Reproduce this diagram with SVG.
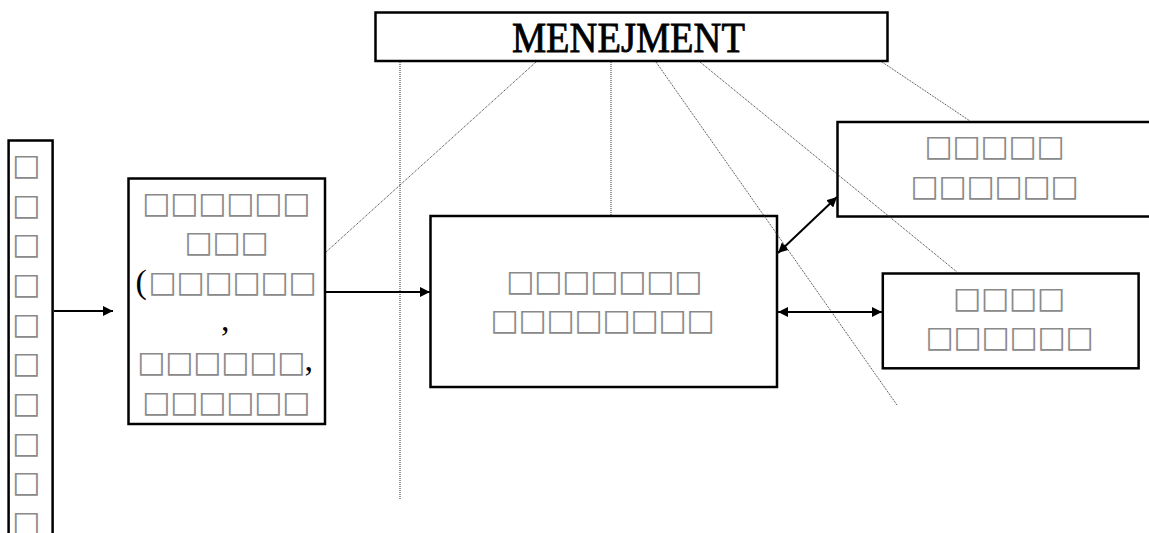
<svg xmlns="http://www.w3.org/2000/svg" width="1149" height="533" viewBox="0 0 1149 533">
<style>
.box{fill:none;stroke:#000;stroke-width:2.5}
.q{font-family:"DejaVu Sans",sans-serif;font-size:30px;fill:#8a8a8a;text-anchor:middle}
.s{font-family:"Liberation Serif",serif;font-size:34px;fill:#000}
.dot{fill:none;stroke:#333;stroke-width:1;stroke-dasharray:1 1}
.arr{fill:none;stroke:#000;stroke-width:2}
</style>
<defs>
<marker id="ah" viewBox="0 0 10 10" refX="10" refY="5" markerWidth="10" markerHeight="10" markerUnits="userSpaceOnUse" orient="auto-start-reverse">
<path d="M0,0 L10,5 L0,10 z" fill="#000"/>
</marker>
</defs>
<rect width="1149" height="533" fill="#fff"/>
<g id="menejment">
<rect class="box" x="375.5" y="12.5" width="512" height="48.5"/>
<text x="628.4" y="51.7" font-family="Liberation Serif, serif" font-size="43" text-anchor="middle" textLength="233" lengthAdjust="spacingAndGlyphs" stroke="#000" stroke-width="0.8">MENEJMENT</text>
</g>
<g id="left-column">
<rect class="box" x="8.6" y="140.5" width="44" height="400"/>
<text class="q" x="26.3 26.3 26.3 26.3 26.3 26.3 26.3 26.3 26.3 26.3" y="175 214.7 254.3 294 333.7 373.3 413 452.7 492.3 532">□□□□□□□□□□</text>
</g>
<g id="input-box">
<rect class="box" x="128.5" y="178.5" width="196.5" height="245.5"/>
<text class="q" x="156.2 184.2 212.2 240.2 268.2 296.2" y="213">□□□□□□</text>
<text class="q" x="198.5 226.5 254.5" y="252">□□□</text>
<text class="s" x="135.5" y="293">(</text>
<text class="q" x="162.5 190.5 218.5 246.5 274.5 302.5" y="292">□□□□□□</text>
<text class="s" x="221" y="331">,</text>
<text class="q" x="151.2 179.2 207.2 235.2 263.2 291.2" y="372">□□□□□□</text>
<text class="s" x="304.5" y="371">,</text>
<text class="q" x="156.2 184.2 212.2 240.2 268.2 296.2" y="412">□□□□□□</text>
</g>
<g id="center-box">
<rect class="box" x="430.5" y="216" width="346.5" height="171"/>
<text class="q" x="520.2 548.2 576.2 604.2 632.2 660.2 688.2" y="291">□□□□□□□</text>
<text class="q" x="504.5 532.5 560.5 588.5 616.5 644.5 672.5 700.5" y="330">□□□□□□□□</text>
</g>
<g id="top-right-box">
<rect class="box" x="837.5" y="122" width="320" height="94.5"/>
<text class="q" x="938.5 966.5 994.5 1022.5 1050.5" y="156">□□□□□</text>
<text class="q" x="924.5 952.5 980.5 1008.5 1036.5 1064.5" y="196">□□□□□□</text>
</g>
<g id="bottom-right-box">
<rect class="box" x="882.8" y="273.5" width="255.8" height="94.8"/>
<text class="q" x="967 995 1023 1051" y="308">□□□□</text>
<text class="q" x="939.5 967.5 995.5 1023.5 1051.5 1079.5" y="347">□□□□□□</text>
</g>
<g id="connectors">
<line class="dot" x1="400" y1="62" x2="400" y2="500"/>
<line class="dot" x1="536" y1="62" x2="326" y2="252"/>
<line class="dot" x1="611" y1="62" x2="611" y2="215"/>
<line class="dot" x1="656" y1="62" x2="897" y2="405"/>
<line class="dot" x1="700" y1="62" x2="957" y2="272"/>
<line class="dot" x1="882" y1="62" x2="970" y2="121"/>
<line class="arr" x1="54" y1="311" x2="113" y2="311" marker-end="url(#ah)"/>
<line class="arr" x1="326" y1="292" x2="430" y2="292" marker-end="url(#ah)"/>
<line class="arr" x1="778" y1="253" x2="837" y2="197" marker-start="url(#ah)" marker-end="url(#ah)"/>
<line class="arr" x1="778" y1="312" x2="882" y2="312" marker-start="url(#ah)" marker-end="url(#ah)"/>
</g>
</svg>
